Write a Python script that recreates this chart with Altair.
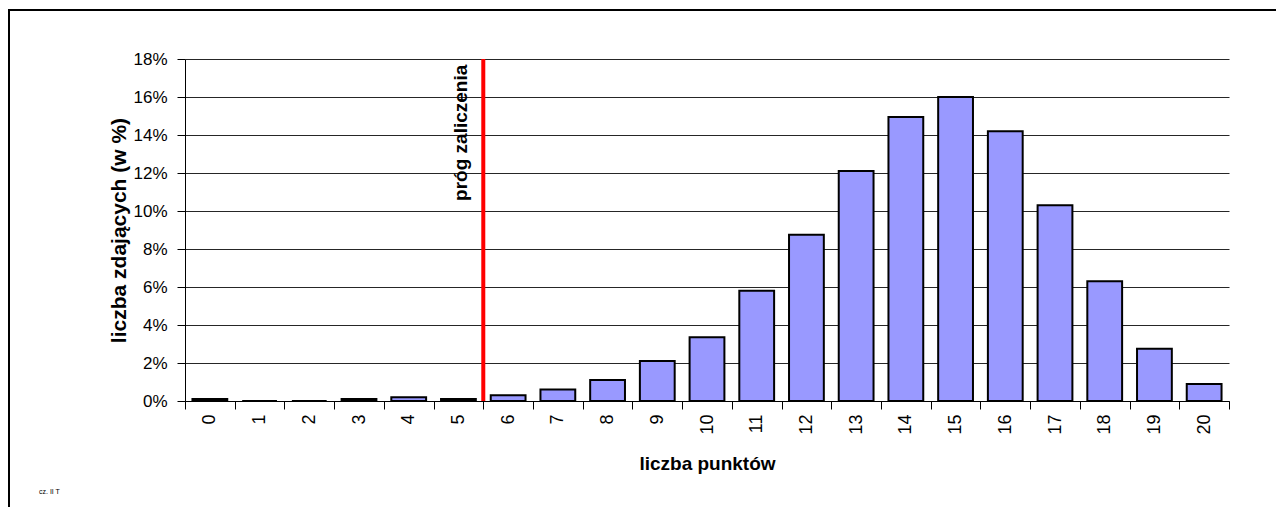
import altair as alt
import pandas as pd

# --- data ---
punkty = [str(i) for i in range(21)]
procent = [0.1, 0.0, 0.0, 0.1, 0.2, 0.1, 0.3, 0.6, 1.1, 2.1, 3.35,
           5.8, 8.75, 12.1, 14.95, 16.0, 14.2, 10.3, 6.3, 2.75, 0.9]
y_ticks = [0, 2, 4, 6, 8, 10, 12, 14, 16, 18]
prog_kategoria = ["6"]
prog_etykieta = ["próg zaliczenia"]
etykieta_kategoria = ["5"]
etykieta_y = [17.7]
stopka = ["cz. II T"]

df = pd.DataFrame({"punkty": punkty, "procent": procent})
df_prog = pd.DataFrame({"punkty": prog_kategoria, "lo": [0], "hi": [18]})
df_lab = pd.DataFrame({"punkty": etykieta_kategoria, "y": etykieta_y, "t": prog_etykieta})

FONT = "Liberation Sans"

x_scale = alt.Scale(domain=punkty, paddingInner=0, paddingOuter=0)
y_scale = alt.Scale(domain=[0, 18], nice=False)

x_axis = alt.Axis(title="liczba punktów", labelAngle=270,
                  tickBand="extent", tickSize=8, tickColor="#000000",
                  domainColor="#000000", labelFontSize=18,
                  labelFont=FONT, labelColor="#000000",
                  labelPadding=5, labelOverlap=False,
                  titleFont=FONT, titleFontSize=19,
                  titleFontWeight="bold", titleColor="#000000",
                  titlePadding=20)
y_axis = alt.Axis(title="liczba zdających (w %)", values=y_ticks,
                  labelExpr="datum.value + '%'",
                  grid=True, gridColor="#000000", gridOpacity=0.85,
                  tickSize=8, tickColor="#000000",
                  domainColor="#000000", labelFontSize=17,
                  labelFont=FONT, labelColor="#000000",
                  labelPadding=10, labelOverlap=False,
                  titleFont=FONT, titleFontSize=21,
                  titleFontWeight="bold", titleColor="#000000",
                  titlePadding=3)

bars = alt.Chart(df).mark_bar(
    fill="#9999FF", stroke="#000000", strokeWidth=2,
    width=alt.RelativeBandSize(0.7)
).encode(
    x=alt.X("punkty:O", sort=punkty, scale=x_scale, axis=x_axis),
    y=alt.Y("procent:Q", scale=y_scale, axis=y_axis),
)

prog = alt.Chart(df_prog).mark_rule(color="#FF0000", strokeWidth=4).encode(
    x=alt.X("punkty:O", sort=punkty, scale=x_scale, bandPosition=0, axis=x_axis),
    y=alt.Y("lo:Q", scale=y_scale, axis=y_axis),
    y2="hi:Q",
)

lab = alt.Chart(df_lab).mark_text(
    angle=270, align="right", baseline="middle", font=FONT,
    fontSize=19, fontWeight="bold", color="#000000"
).encode(
    x=alt.X("punkty:O", sort=punkty, scale=x_scale, bandPosition=0.55, axis=x_axis),
    y=alt.Y("y:Q", scale=y_scale, axis=y_axis),
    text="t:N",
)

frame_left = alt.Chart(df.head(1)).mark_rule(color="#000000", strokeWidth=2).encode(
    x=alt.value(-176), y=alt.value(-49), y2=alt.value(460)
)
frame_top = alt.Chart(df.head(1)).mark_rule(color="#000000", strokeWidth=2).encode(
    x=alt.value(-177), x2=alt.value(1100), y=alt.value(-49)
)
foot = alt.Chart(pd.DataFrame({"t": stopka})).mark_text(
    font=FONT, fontSize=7, align="left", baseline="middle", color="#000000"
).encode(x=alt.value(-146), y=alt.value(433), text="t:N")

chart = alt.layer(bars, prog, lab, frame_left, frame_top, foot).properties(
    width=1044, height=342,
    autosize=alt.AutoSizeParams(type="none"),
    padding={"left": 177, "top": 51, "right": 47, "bottom": 106},
).configure(background="#FFFFFF").configure_view(stroke=None)

chart.save("out.html", embed_options={"renderer": "svg", "actions": False})
